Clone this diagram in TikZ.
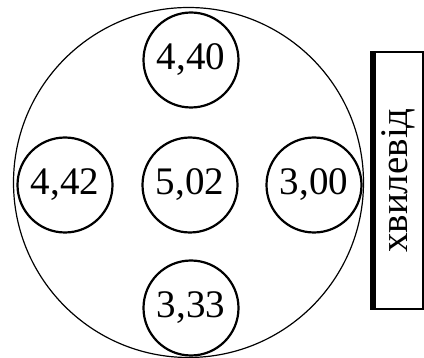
\documentclass[tikz,border=0pt]{standalone}
\usepackage{fontspec}
\setmainfont{Liberation Serif}
\usepackage{tikz}
\usetikzlibrary{positioning}

\begin{document}
\begin{tikzpicture}[
    x=1pt, y=-1pt,
    probe/.style={draw, circle, line width=2.2pt, minimum size=95pt, inner sep=0pt,
                  font=\fontsize{39}{40}\selectfont},
    disc/.style={draw, circle, line width=1.2pt, minimum size=350pt, inner sep=0pt},
    guidebox/.style={draw, line width=1.3pt, minimum width=49pt, minimum height=257pt,
                  inner sep=0pt, font=\fontsize{39}{40}\selectfont}
]
\useasboundingbox (0,0) rectangle (424,358);

% --- Disc ---
\node[disc] (plate) at (188.5,182.5) {};

% --- Probes ---
\node[probe] (ptop) at (191,60) {4,40};
\node[probe] (pleft) at (65,185) {4,42};
\node[probe] (pmid) at (190,185) {5,02};
\node[probe] (pright) at (314,185) {3,00};
\node[probe] (pbot) at (191,308) {3,33};

% --- Waveguide ---
\node[guidebox] (guide) at (398.5,180.5) {\rotatebox{90}{хвилевід}};
\draw[line width=6pt] (guide.north west) -- (guide.south west);

\end{tikzpicture}
\end{document}
